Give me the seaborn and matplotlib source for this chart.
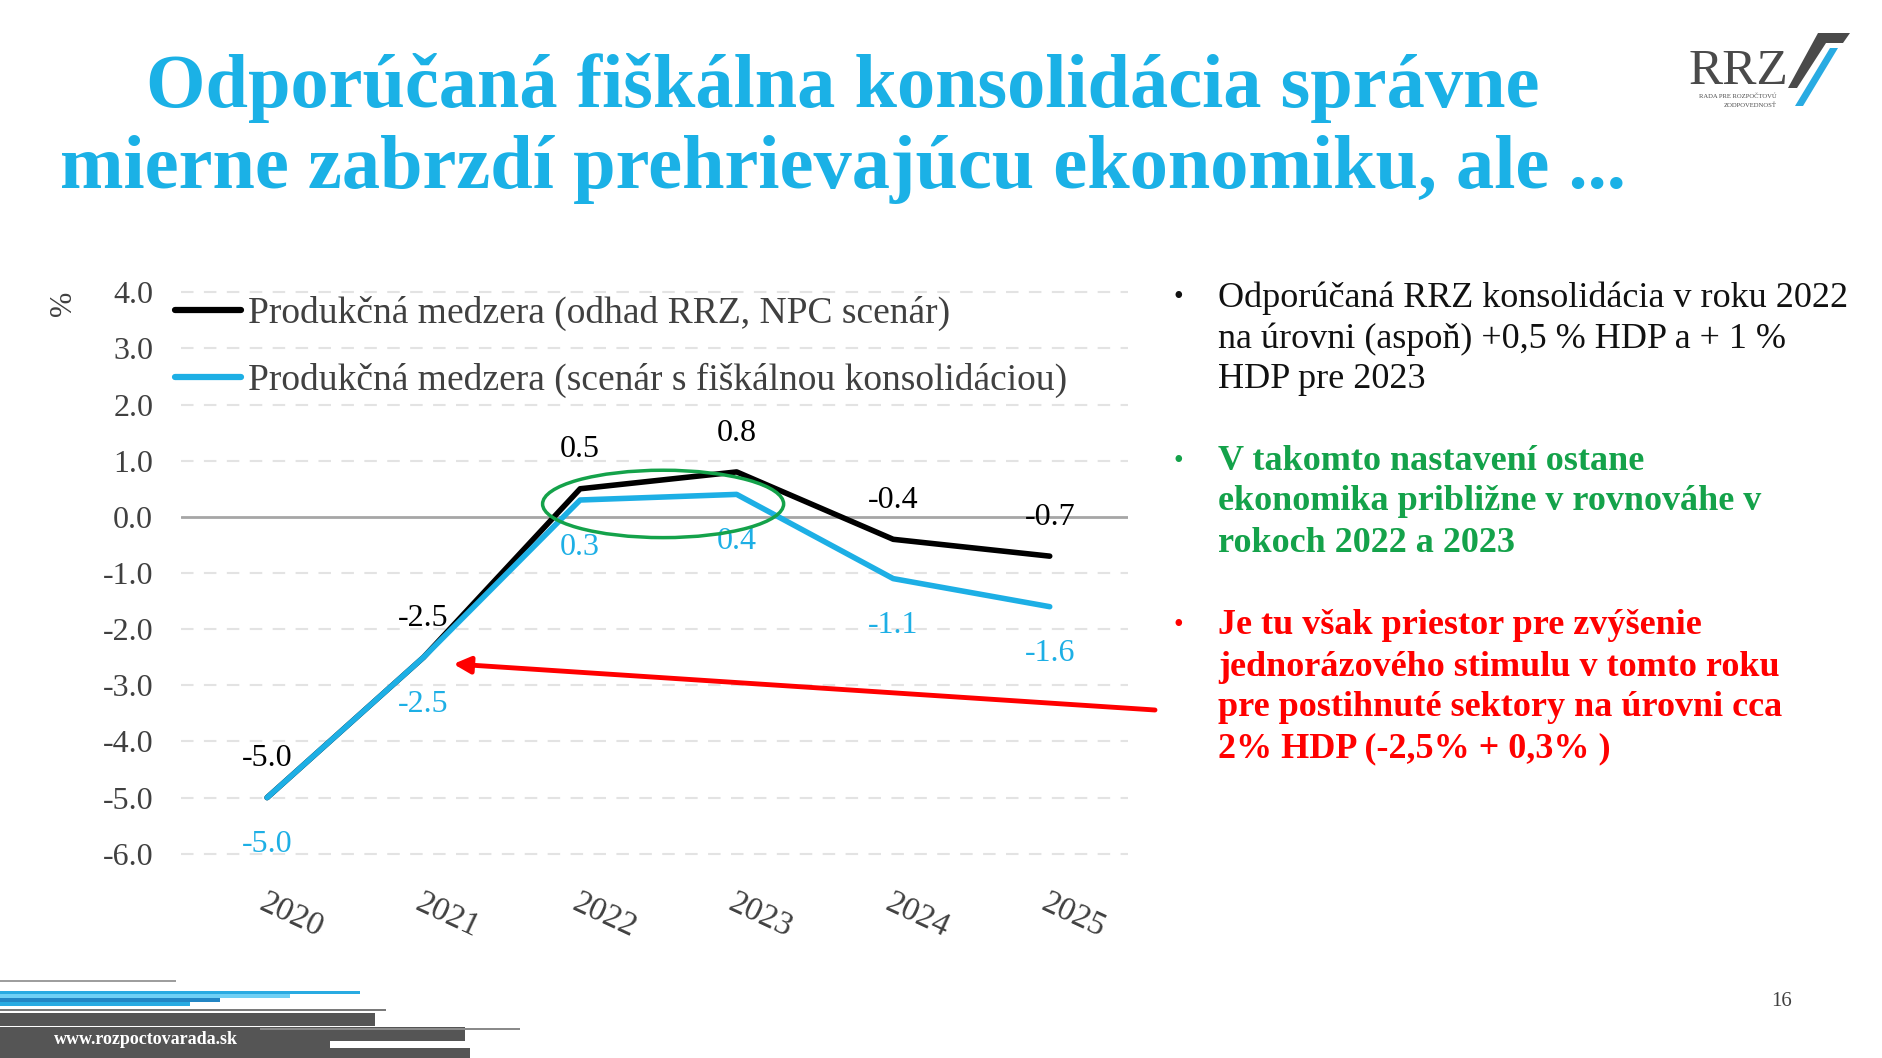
import matplotlib.pyplot as plt
from matplotlib.colors import to_hex
from matplotlib.patches import Ellipse, Rectangle, Polygon
import seaborn as sns
import pandas as pd

# údaje z grafu
roky = ["2020", "2021", "2022", "2023", "2024", "2025"]
medzera_rrz = [-5.0, -2.5, 0.5, 0.8, -0.4, -0.7]
medzera_konsolidacia = [-5.0, -2.5, 0.3, 0.4, -1.1, -1.6]
y_ticks = [4, 3, 2, 1, 0, -1, -2, -3, -4, -5, -6]
nazov_rrz = "Produkčná medzera (odhad RRZ, NPC scenár)"
nazov_kons = "Produkčná medzera (scenár s fiškálnou konsolidáciou)"
zvyraznene_roky = ["2022", "2023"]

titulok = ["Odporúčaná fiškálna konsolidácia správne",
           "mierne zabrzdí prehrievajúcu ekonomiku, ale ..."]
bod1 = ["Odporúčaná RRZ konsolidácia v roku 2022",
        "na úrovni (aspoň) +0,5 % HDP a + 1 %",
        "HDP pre 2023"]
bod2 = ["V takomto nastavení ostane",
        "ekonomika približne v rovnováhe v",
        "rokoch 2022 a 2023"]
bod3 = ["Je tu však priestor pre zvýšenie",
        "jednorázového stimulu v tomto roku",
        "pre postihnuté sektory na úrovni cca",
        "2% HDP (-2,5% + 0,3% )"]

CIERNA = "#000000"
MODRA = "#1dafe5"
ZELENA = "#14A24A"
CERVENA = "#FF0000"
SIVA = "#404040"

W, H = 1882, 1058

sns.set_theme(style="white")
plt.rcParams["font.family"] = ["Liberation Serif", "DejaVu Serif"]

df = pd.DataFrame({"rok": roky * 2,
                   "hodnota": medzera_rrz + medzera_konsolidacia,
                   "seria": [nazov_rrz] * len(roky) + [nazov_kons] * len(roky)})

fig = plt.figure(figsize=(W / 100, H / 100), dpi=100)
fig.patch.set_facecolor("white")


def fx(px):
    return px / W


def fy(py):
    return 1 - py / H


ax = fig.add_axes([fx(181), fy(865), fx(1128) - fx(181), fy(281) - fy(865)])
ax.set_facecolor("white")

for t in y_ticks:
    if t == 0:
        ax.axhline(0, color="#A6A6A6", lw=2, zorder=1)
    else:
        ax.axhline(t, color="#E3E3E3", lw=1.5, ls=(0, (6, 5)), zorder=0)

sns.lineplot(data=df, x="rok", y="hodnota", hue="seria", ax=ax,
             palette={nazov_rrz: CIERNA, nazov_kons: MODRA},
             linewidth=4, sort=False, zorder=3)
# modra ciara nad ciernou
for line in ax.get_lines():
    if to_hex(line.get_color()) == MODRA:
        line.set_zorder(4)

ax.set_xlim(-0.55, 5.5)
ax.set_ylim(-6.2, 4.2)
ax.set_yticks(y_ticks)
ax.set_yticklabels([f"{t:.1f}" for t in y_ticks], fontsize=23, color=SIVA)
ax.set_xticks(range(len(roky)))
ax.set_xticklabels(roky, fontsize=24, color=SIVA, rotation=-25,
                   ha="left", va="top", rotation_mode="anchor")
ax.tick_params(axis="x", pad=16, length=0)
ax.tick_params(axis="y", pad=20, length=0)
ax.set_xlabel("")
ax.set_ylabel("")
sns.despine(ax=ax, left=True, bottom=True)

# popisky hodnot
for i, (a, b) in enumerate(zip(medzera_rrz, medzera_konsolidacia)):
    ax.annotate(f"{a:.1f}", (i, a), xytext=(0, 28), textcoords="offset points",
                ha="center", va="center", fontsize=23, color=CIERNA, zorder=5)
    ax.annotate(f"{b:.1f}", (i, b), xytext=(0, -34), textcoords="offset points",
                ha="center", va="center", fontsize=23, color=MODRA, zorder=5)

# zelena elipsa okolo vyrovnanych rokov
i0, i1 = roky.index(zvyraznene_roky[0]), roky.index(zvyraznene_roky[1])
stred_y = (min(medzera_konsolidacia[i0:i1 + 1]) + min(medzera_rrz[i0:i1 + 1])) / 2 - 0.2
ax.add_patch(Ellipse(((i0 + i1) / 2 + 0.03, stred_y + 0.03), 1.54, 1.2,
                     fill=False, ec=ZELENA, lw=2.5, zorder=6))

# cervena sipka na rok 2021
i21 = roky.index("2021")
ax.annotate("", xy=(i21 + 0.19, medzera_konsolidacia[i21] - 0.12),
            xytext=(fx(1155), fy(710)), textcoords="figure fraction",
            arrowprops=dict(arrowstyle="-|>", color=CERVENA, lw=3.5,
                            mutation_scale=25, shrinkA=0, shrinkB=0),
            annotation_clip=False, zorder=7)

leg = ax.legend(loc="upper left", bbox_to_anchor=(-0.022, 1.0), frameon=False,
                fontsize=27, handlelength=1.75, handletextpad=0.2,
                labelspacing=0.85, borderaxespad=0)
for t in leg.get_texts():
    t.set_color(SIVA)
for h in leg.get_lines():
    h.set_linewidth(4.5)

fig.text(fx(63), fy(303), "%", rotation=90, fontsize=22, color=SIVA,
         ha="center", va="center")

# titulok
for txt, py in zip(titulok, [88, 170]):
    fig.text(fx(843), fy(py), txt, ha="center", va="center", fontsize=55,
             fontweight="bold", color="#1BB1E6")


# odrazky vpravo
def odrazka(riadky, py0, farba, tucne):
    fig.text(fx(1178), fy(py0), "•", ha="center", va="center", fontsize=20,
             color=farba)
    for k, r in enumerate(riadky):
        fig.text(fx(1218), fy(py0 + 41 * k), r, ha="left", va="center",
                 fontsize=26, color=farba,
                 fontweight="bold" if tucne else "normal")


odrazka(bod1, 298, "#111111", False)
odrazka(bod2, 461, ZELENA, True)
odrazka(bod3, 626, CERVENA, True)

# logo RRZ
fig.text(fx(1738), fy(72), "RRZ", ha="center", va="center", fontsize=37,
         color="#4A4A4A")
fig.text(fx(1738), fy(96), "RADA PRE ROZPOČTOVÚ", ha="center", va="center",
         fontsize=4.8, color="#4A4A4A")
fig.text(fx(1750), fy(105), "ZODPOVEDNOSŤ", ha="center", va="center",
         fontsize=4.8, color="#4A4A4A")
for pts, c in [([(1818, 33), (1850, 33), (1843, 43), (1826, 43), (1797, 88), (1788, 88)], "#4A4A4A"),
               ([(1830, 48), (1838, 48), (1803, 106), (1795, 106)], "#29ABE2")]:
    fig.add_artist(Polygon([(fx(x), fy(y)) for x, y in pts], closed=True,
                           transform=fig.transFigure, color=c, lw=0))

# dekoracia v päte
pruhy = [(0, 980, 176, 982, "#9E9E9E"), (0, 991, 360, 994, "#29ABE2"),
         (0, 994, 290, 998, "#6FD0F5"), (0, 998, 220, 1002, "#2386C4"),
         (0, 1002, 190, 1006, "#29ABE2"), (0, 1009, 386, 1011, "#7A7A7A"),
         (0, 1013, 375, 1026, "#555555"), (0, 1027, 465, 1041, "#555555"),
         (0, 1041, 330, 1058, "#555555"), (330, 1048, 470, 1058, "#555555"),
         (260, 1028, 520, 1030, "#8A8A8A")]
for x0, y0, x1, y1, c in pruhy:
    fig.add_artist(Rectangle((fx(x0), fy(y1)), fx(x1) - fx(x0), fy(y0) - fy(y1),
                             transform=fig.transFigure, color=c, lw=0))
fig.text(fx(54), fy(1040), "www.rozpoctovarada.sk", ha="left", va="center",
         fontsize=13, fontweight="bold", color="white")
fig.text(fx(1782), fy(1002), "16", ha="center", va="center", fontsize=15,
         color=SIVA)

fig.savefig("out.png", dpi=100, facecolor="white")
